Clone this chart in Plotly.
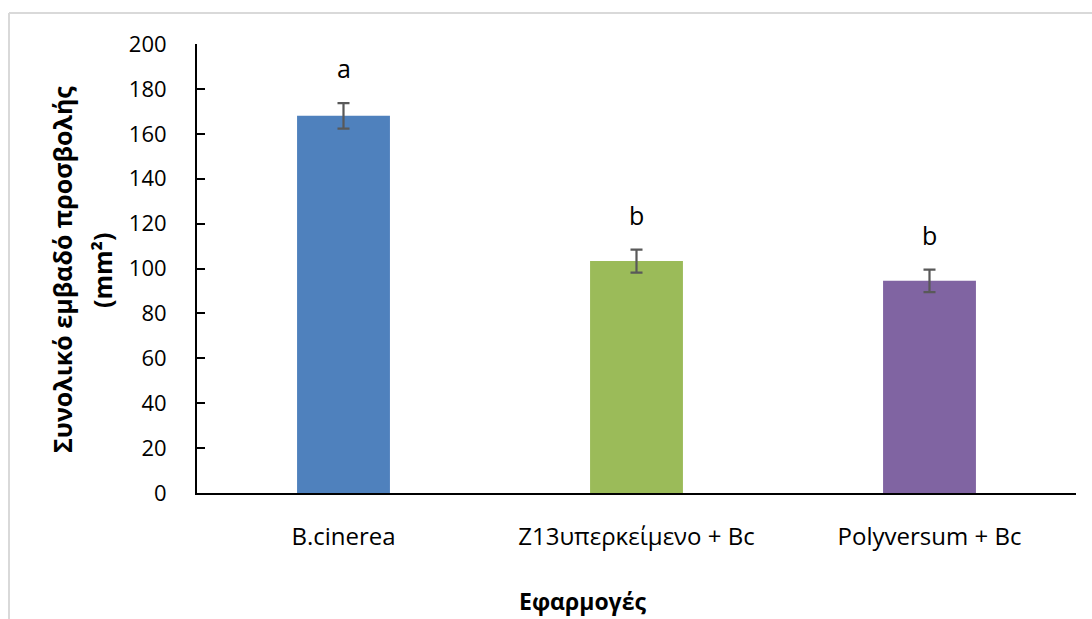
import plotly.graph_objects as go

# Treatments, mean lesion area and standard error
treatments = ["B.cinerea", "Z13υπερκείμενο + Bc", "Polyversum + Bc"]
mean_area = [168.0, 103.3, 94.5]
std_err = [5.7, 5.1, 5.0]
group_letters = ["a", "b", "b"]
bar_colors = ["#4F81BD", "#9BBB59", "#8064A2"]
y_ticks = list(range(0, 201, 20))

FONT = "Open Sans"
W, H = 1092, 619
L, R, T, B = 197, 16, 44, 126

fig = go.Figure()
fig.add_trace(go.Bar(
    x=treatments,
    y=mean_area,
    marker=dict(color=bar_colors, line=dict(width=0)),
    width=0.317,
    error_y=dict(type="data", array=std_err, visible=True,
                 color="#595959", thickness=2.2, width=6),
    showlegend=False,
))

# significance letters above each error bar
for t, m, e, lab in zip(treatments, mean_area, std_err, group_letters):
    fig.add_annotation(x=t, y=m + e, text=lab, showarrow=False,
                       yanchor="middle", yshift=35,
                       font=dict(family=FONT, size=25, color="#000"))

pw, ph = W - L - R, H - T - B


def px_x(p):
    return (p - L) / pw


def px_y(p):
    return (H - B - p) / ph


# axis titles
fig.add_annotation(xref="paper", yref="paper", x=px_x(582), y=px_y(601),
                   text="<b>Εφαρμογές</b>", showarrow=False,
                   xanchor="center", yanchor="middle",
                   font=dict(family=FONT, size=23, color="#000"))
fig.add_annotation(xref="paper", yref="paper", x=px_x(62), y=px_y(270),
                   text="<b>Συνολικό εμβαδό προσβολής</b>", showarrow=False,
                   textangle=-90, xanchor="center", yanchor="middle",
                   font=dict(family=FONT, size=25, color="#000"))
fig.add_annotation(xref="paper", yref="paper", x=px_x(102), y=px_y(270),
                   text="<b>(mm²)</b>", showarrow=False,
                   textangle=-90, xanchor="center", yanchor="middle",
                   font=dict(family=FONT, size=25, color="#000"))

# light chart-area frame (left and top edges)
frame = dict(color="#D9D9D9", width=2)
fig.add_shape(type="line", xref="paper", yref="paper",
              x0=px_x(9), x1=px_x(9), y0=px_y(13), y1=px_y(H + 10), line=frame)
fig.add_shape(type="line", xref="paper", yref="paper",
              x0=px_x(9), x1=px_x(W + 10), y0=px_y(13), y1=px_y(13), line=frame)

fig.update_layout(
    width=W, height=H,
    margin=dict(l=L, r=R, t=T, b=B, pad=0),
    paper_bgcolor="white", plot_bgcolor="white",
    font=dict(family=FONT, size=23, color="#000"),
    bargap=0.683,
    xaxis=dict(showline=True, linecolor="#000", linewidth=2,
               ticks="", showgrid=False, zeroline=False,
               tickfont=dict(family=FONT, size=24, color="#000"),
               ticklabelstandoff=21),
    yaxis=dict(range=[0, 200], tickvals=y_ticks, showline=True,
               linecolor="#000", linewidth=2, ticks="inside", ticklen=8,
               tickwidth=1.5, tickcolor="#000", showgrid=False,
               zeroline=False, ticklabelstandoff=24,
               tickfont=dict(family=FONT, size=22, color="#000")),
)

fig.write_html("out.html")
